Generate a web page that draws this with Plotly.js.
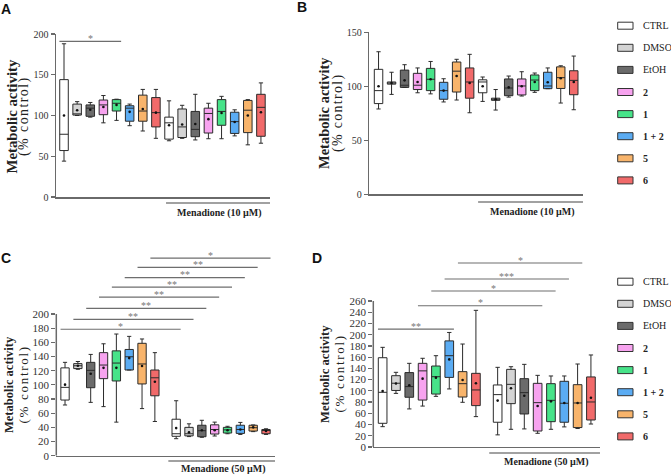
<!DOCTYPE html>
<html><head><meta charset="utf-8">
<script src="https://cdn.plot.ly/plotly-3.0.1.min.js"></script>
<style>html,body{margin:0;padding:0;background:#fff}#chart{width:671px;height:475px}</style>
</head><body><div id="chart"></div>
<script>
// ---------- categories ----------
const groups = ['CTRL','DMSO','EtOH','2','1','1 + 2','5','6'];
const groupBold = [false,false,false,true,true,true,true,true];
const doseA = 'Menadione (10 µM)';
const doseB = 'Menadione (10 µM)';
const doseC = 'Menadione (50 µM)';
const doseD = 'Menadione (50 µM)';
const yTitle1 = 'Metabolic activity';
const yTitle2 = '(% control)';
const ticksA = [0,50,100,150,200];
const ticksB = [0,50,100,150];
const ticksC = [0,20,40,60,80,100,120,140,160,180,200];
const ticksD = [0,20,40,60,80,100,120,140,160,180,200,220,240,260];

// ---------- panel A (first 8 without, last 8 with menadione 10 µM) ----------
const A_low  = [44,100,98,91,94,87.5,81,72,69,72,70,71.5,71.5,75,64,66];
const A_q1   = [57,100.5,99,101,105.5,93,93,86,71,73,74,78.5,88,78,79,74.5];
const A_med  = [77,102,109,113,115,109,105.5,103.5,91,86,83,102.5,105,92.5,106.5,110];
const A_q3   = [144,114,113,119,119.5,112,125,122,98,108,105,109,119.5,104,118.5,126];
const A_high = [188,117,116,124.5,120,114,132,132,118,112.5,126,115,123.5,107,119.5,140];
const A_mean = [100,106.5,107,110.5,113,104.5,108,103.5,88,89,89.5,95.5,103,92,100,104];

// ---------- panel B ----------
const B_low  = [79,92.5,99,94,93,85.5,87.3,75.5,86,78,90,91,94.4,97.8,84.5,78.3];
const B_q1   = [84,102,99,97,96,88,94.7,89,94,87,91.3,92,96,97.8,98,92.2];
const B_med  = [96,103,101,101,106.5,96,114,104,104,88,98.4,100.3,105.8,100.3,108,105.5];
const B_q3   = [115.7,104,115,112,116.6,103.7,122.5,117,106,89,106.8,106.8,110.5,113,118,114.4];
const B_high = [132,113,120,117,123,107,125,129.6,108.6,97,109.5,113.5,112.3,117,119,128];
const B_mean = [100,103,105.5,104,106.5,96,109.5,103,100,88,99,100,104,103.7,107.4,104];

// ---------- panel C (menadione 50 µM) ----------
const C_low  = [71.6,122,75.3,69.3,47.4,121,66.5,48.3,24,27,26,27.8,31,30,34,30];
const C_q1   = [78.6,123,96,108.8,105.5,121,101.3,84.6,27.4,28,26.8,30.6,32,31.5,34.8,31];
const C_med  = [96.5,127,120.5,128,130.8,139.7,129.5,110,31,31,35.3,37,36.5,37,39.5,36];
const C_q3   = [124,130,131.8,145.5,148,150,158.7,121,51.5,40,43,43.6,40,43,43,37];
const C_high = [131.8,133,143,158,171.8,168.5,164.8,145.5,77.6,45,50,47.4,41.5,47,43.4,38];
const C_mean = [100.3,127,115.8,124,124,137.8,126.7,104.5,39,33,36,36,36,37,40,34.8];

// ---------- panel D (menadione 50 µM) ----------
const D_low  = [36.2,95.5,67.8,72.9,90.2,103.4,79.6,54.1,21.6,31.5,32.2,24.4,31.5,35.8,32.9,40.9];
const D_q1   = [42.2,100.7,88.6,83.6,94.3,124,89,73.7,44.1,77.2,58.8,28.5,45.1,44.1,34.6,48.1];
const D_med  = [97.4,113.6,107.6,135.6,125.2,162.6,112.8,101.6,93.3,111.6,96.8,79,83.1,77.9,78.4,80.2];
const D_q3   = [159,127,132.5,149,144.2,189,134.2,131.2,110.5,138.3,121.7,113.4,112.8,117,111,124.8];
const D_high = [177.5,133,149,158,162.6,204,183.4,243.4,141.9,143,147.2,127.6,126.5,126.5,147.8,163.9];
const D_mean = [99.7,113,110,121.7,123.5,156,119.4,113.6,82.6,104.6,91.4,73,81.3,78.4,78.4,87.8];

// ---------- significance brackets (box index pairs, level, label) ----------
const sigA_pairs = [[0,4]];
const sigA_level = [191];
const sigA_label = ['*'];
const sigC_pairs = [[0,8],[1,9],[2,10],[3,11],[4,12],[5,13],[6,14],[7,15]];
const sigC_level = [178.5,192.6,208,224,238,251.3,266,279];
const sigC_label = ['*','**','**','**','**','**','**','*'];
const sigD_pairs = [[0,5],[3,11],[4,12],[5,13],[6,14]];
const sigD_level = [210,251.6,277.8,299.2,327.7];
const sigD_label = ['**','*','*','***','*'];

// ---------- styling ----------
const fills = ['#ffffff','#d4d4d4','#6b6b6b','#f7a3ef','#47e389','#5bacf3','#f8b46b','#f16a6a'];
const axisCol = '#6a6a6a';
const serif = 'Liberation Serif';
const W = 671, H = 475;
const px = v => v / W;
const py = v => 1 - v / H;

function positions(gap) {
  const p = [];
  for (let i = 0; i < 16; i++) p.push(i < 8 ? i : i + gap);
  return p;
}
const posA = positions(0), posB = positions(0), posC = positions(0.66), posD = positions(0.63);

const traces = [];
function panel(xa, ya, pos, low, q1, med, q3, high, mean) {
  for (let g = 0; g < 8; g++) {
    const idx = [g, g + 8];
    traces.push({
      type: 'box', orientation: 'v', xaxis: xa, yaxis: ya,
      x: idx.map(i => pos[i]),
      lowerfence: idx.map(i => low[i]), q1: idx.map(i => q1[i]),
      median: idx.map(i => med[i]), q3: idx.map(i => q3[i]),
      upperfence: idx.map(i => high[i]),
      boxpoints: false, width: 0.65, whiskerwidth: 0.5,
      fillcolor: fills[g], line: { color: '#2b2b2b', width: 1 },
      showlegend: false, hoverinfo: 'skip', name: groups[g]
    });
  }
  traces.push({
    type: 'scatter', mode: 'markers', xaxis: xa, yaxis: ya, x: pos, y: mean,
    marker: { size: 2.6, color: '#111' }, showlegend: false, hoverinfo: 'skip'
  });
}
panel('x', 'y', posA, A_low, A_q1, A_med, A_q3, A_high, A_mean);
panel('x2', 'y2', posB, B_low, B_q1, B_med, B_q3, B_high, B_mean);
panel('x3', 'y3', posC, C_low, C_q1, C_med, C_q3, C_high, C_mean);
panel('x4', 'y4', posD, D_low, D_q1, D_med, D_q3, D_high, D_mean);

const xbase = { showline: true, linecolor: axisCol, linewidth: 1.5, showticklabels: false, ticks: '', showgrid: false, zeroline: false, fixedrange: true };
function ybase(tv, size, line) {
  return { showline: line, linecolor: axisCol, linewidth: 1.5, ticks: 'outside', ticklen: 4, tickwidth: 1.2, tickcolor: axisCol,
    tickvals: tv, ticktext: tv.map(String), showgrid: false, zeroline: false, fixedrange: true,
    tickfont: { family: serif, size: size, color: '#333' } };
}

const shapes = [], annotations = [];
// y-axis lines for C and D (only over the tick range)
shapes.push({ type: 'line', xref: 'x3 domain', yref: 'y3', x0: 0, x1: 0, y0: 0, y1: 200, line: { color: axisCol, width: 1.5 } });
shapes.push({ type: 'line', xref: 'x4 domain', yref: 'y4', x0: 0, x1: 0, y0: 0, y1: 260, line: { color: axisCol, width: 1.5 } });

function sig(xa, ya, pos, pairs, levels, labels) {
  pairs.forEach((pr, k) => {
    const x0 = pos[pr[0]] - 0.35, x1 = pos[pr[1]] + 0.35;
    shapes.push({ type: 'line', xref: xa, yref: ya, x0: x0, x1: x1, y0: levels[k], y1: levels[k], line: { color: '#6e6e6e', width: 1.2 } });
    annotations.push({ xref: xa, yref: ya, x: (x0 + x1) / 2, y: levels[k], text: labels[k], showarrow: false, yanchor: 'middle', yshift: 3,
      font: { family: serif, size: 10, color: '#777' } });
  });
}
sig('x', 'y', posA, sigA_pairs, sigA_level, sigA_label);
sig('x3', 'y3', posC, sigC_pairs, sigC_level, sigC_label);
sig('x4', 'y4', posD, sigD_pairs, sigD_level, sigD_label);

// menadione bars and labels
function dose(xa, startX, endX, lineY, text, cx, ty) {
  shapes.push({ type: 'line', xref: xa, yref: 'paper', x0: startX, x1: endX, y0: py(lineY), y1: py(lineY), line: { color: '#444', width: 1.2 } });
  annotations.push({ xref: 'paper', yref: 'paper', x: px(cx), y: py(ty), text: '<b>' + text + '</b>', showarrow: false,
    xanchor: 'center', yanchor: 'middle', font: { family: serif, size: 10, color: '#222' } });
}
dose('x', 7.77, 15.69, 203, doseA, 219.5, 213);
dose('x2', 7.65, 15.71, 202, doseB, 532, 212);
dose('x3', 8.05, 16.36, 461, doseC, 223, 469);
dose('x4', 8.0, 16.31, 453, doseD, 546, 462);

// y titles
function ytitle(x1, x2, cy, size1, size2, spacing) {
  annotations.push({ xref: 'paper', yref: 'paper', x: px(x1), y: py(cy), text: '<b>' + yTitle1 + '</b>', textangle: -90, showarrow: false,
    xanchor: 'center', yanchor: 'middle', font: { family: serif, size: size1, color: '#222' } });
  annotations.push({ xref: 'paper', yref: 'paper', x: px(x2), y: py(cy), text: '<span style="letter-spacing:' + spacing + 'px">' + yTitle2 + '</span>', textangle: -90, showarrow: false,
    xanchor: 'center', yanchor: 'middle', font: { family: serif, size: size2, color: '#222' } });
}
ytitle(11, 23.5, 116.5, 14.8, 14, 1.4);
ytitle(324, 338, 113, 14.5, 14, 1.3);
ytitle(9, 22.5, 385, 12.5, 13, 1.7);
ytitle(325, 338.5, 374, 12.7, 13, 1.7);

// panel letters
[['A', 6, 9], ['B', 302, 7], ['C', 6, 258], ['D', 317, 258]].forEach(l => {
  annotations.push({ xref: 'paper', yref: 'paper', x: px(l[1]), y: py(l[2]), text: '<b>' + l[0] + '</b>', showarrow: false,
    xanchor: 'center', yanchor: 'middle', font: { family: 'Liberation Sans', size: 14, color: '#111' } });
});

// legends
function legend(y0) {
  groups.forEach((g, i) => {
    const cy = y0 + i * 22.1;
    shapes.push({ type: 'rect', xref: 'paper', yref: 'paper', x0: px(617.7), x1: px(633), y0: py(cy + 3.5), y1: py(cy - 3.5),
      fillcolor: fills[i], line: { color: '#333', width: 1 } });
    annotations.push({ xref: 'paper', yref: 'paper', x: px(641), y: py(cy), text: groupBold[i] ? '<b>' + g + '</b>' : g, showarrow: false,
      xanchor: 'left', yanchor: 'middle', font: { family: serif, size: 10, color: '#222' } });
  });
}
legend(25.7);
legend(281.7);

const layout = {
  width: W, height: H, margin: { l: 0, r: 0, t: 0, b: 0 },
  paper_bgcolor: '#fff', plot_bgcolor: 'rgba(0,0,0,0)', showlegend: false,
  font: { family: serif, size: 11, color: '#222' }, boxmode: 'overlay',
  xaxis:  Object.assign({}, xbase, { domain: [0.08346, 0.40238], range: [-0.61, 15.69], anchor: 'y' }),
  yaxis:  Object.assign({}, ybase(ticksA, 10, true), { domain: [0.58526, 0.92842], range: [0, 200], anchor: 'x' }),
  xaxis2: Object.assign({}, xbase, { domain: [0.55037, 0.86885], range: [-0.71, 15.71], anchor: 'y2' }),
  yaxis2: Object.assign({}, ybase(ticksB, 10, true), { domain: [0.59095, 0.93200], range: [0, 150], anchor: 'x2' }),
  xaxis3: Object.assign({}, xbase, { domain: [0.08390, 0.40984], range: [-0.68, 16.36], anchor: 'y3' }),
  yaxis3: Object.assign({}, ybase(ticksC, 11, false), { domain: [0.04063, 0.47305], range: [0, 290], anchor: 'x3' }),
  xaxis4: Object.assign({}, xbase, { domain: [0.55633, 0.89419], range: [-0.70, 16.31], anchor: 'y4' }),
  yaxis4: Object.assign({}, ybase(ticksD, 11, false), { domain: [0.05895, 0.46084], range: [0, 340], anchor: 'x4' }),
  shapes: shapes, annotations: annotations
};

Plotly.newPlot('chart', traces, layout, { staticPlot: true, displayModeBar: false });
</script>
</body></html>
